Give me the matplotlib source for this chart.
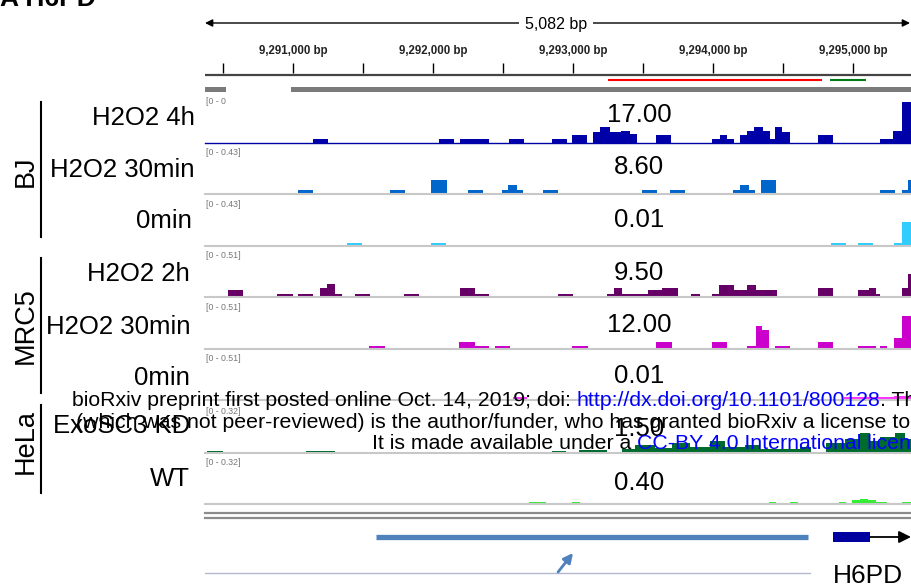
import matplotlib
matplotlib.use("Agg")
import matplotlib.pyplot as plt
from matplotlib.patches import Rectangle

plt.rcParams['font.family'] = ['Liberation Sans', 'DejaVu Sans']

# ---------------- data ----------------
TITLE = "A H6PD"
VIEW_START, VIEW_END = 9290371, 9295414
SPAN_LABEL = "5,082 bp"
RULER_MINOR = [9290500, 9291000, 9291500, 9292000, 9292500, 9293000,
               9293500, 9294000, 9294500, 9295000]
RULER_MAJOR = [9291000, 9292000, 9293000, 9294000, 9295000]
REGION_RED = (9293250, 9294779)
REGION_GREEN = (9294836, 9295093)

GROUPS = ["BJ", "MRC5", "HeLa"]
TRACK_NAMES = ["H2O2 4h", "H2O2 30min", "0min", "H2O2 2h", "H2O2 30min",
               "0min", "ExoSC3 KD", "WT"]
TRACK_SCALES = [0.43, 0.43, 0.43, 0.51, 0.51, 0.51, 0.32, 0.32]
TRACK_NUMBERS = ["17.00", "8.60", "0.01", "9.50", "12.00", "0.01", "1.50", "0.40"]

BJ_H2O2_4H = [
    (9291141, 9291248, 0.04), (9292043, 9292150, 0.04), (9292193, 9292400, 0.04),
    (9292543, 9292650, 0.04), (9292850, 9292957, 0.04), (9292993, 9293100, 0.08),
    (9293143, 9293193, 0.11), (9293193, 9293264, 0.16), (9293264, 9293343, 0.11),
    (9293343, 9293407, 0.12), (9293407, 9293457, 0.09), (9293593, 9293700, 0.08),
    (9293993, 9294050, 0.04), (9294050, 9294100, 0.08), (9294100, 9294150, 0.04),
    (9294193, 9294243, 0.08), (9294243, 9294293, 0.12), (9294293, 9294357, 0.16),
    (9294357, 9294407, 0.12), (9294407, 9294443, 0.04), (9294443, 9294493, 0.16),
    (9294493, 9294550, 0.11), (9294750, 9294857, 0.08), (9295193, 9295286, 0.04),
    (9295286, 9295350, 0.12), (9295350, 9295420, 0.41),
]
BJ_H2O2_30MIN = [
    (9291036, 9291143, 0.04), (9291693, 9291800, 0.04), (9291986, 9292100, 0.14),
    (9292250, 9292357, 0.04), (9292493, 9292536, 0.04), (9292536, 9292600, 0.09),
    (9292600, 9292643, 0.04), (9292786, 9292893, 0.04), (9293493, 9293600, 0.04),
    (9293693, 9293800, 0.04), (9294143, 9294193, 0.04), (9294193, 9294257, 0.09),
    (9294257, 9294300, 0.04), (9294343, 9294450, 0.14), (9295193, 9295300, 0.04),
    (9295350, 9295393, 0.04), (9295393, 9295420, 0.14),
]
BJ_0MIN = [
    (9291386, 9291493, 0.03), (9291986, 9292093, 0.03), (9294843, 9294950, 0.03),
    (9295036, 9295143, 0.03), (9295293, 9295350, 0.03), (9295350, 9295420, 0.24),
]
MRC5_H2O2_2H = [
    (9290536, 9290643, 0.083), (9290886, 9291000, 0.036), (9291036, 9291143, 0.036),
    (9291193, 9291243, 0.107), (9291243, 9291300, 0.154), (9291300, 9291350, 0.036),
    (9291443, 9291550, 0.036), (9291793, 9291900, 0.036), (9292193, 9292300, 0.107),
    (9292300, 9292400, 0.036), (9292893, 9293000, 0.036), (9293243, 9293293, 0.036),
    (9293293, 9293350, 0.107), (9293350, 9293536, 0.036), (9293536, 9293636, 0.083),
    (9293636, 9293750, 0.107), (9293843, 9293907, 0.036), (9293993, 9294043, 0.036),
    (9294043, 9294150, 0.142), (9294150, 9294243, 0.083), (9294243, 9294307, 0.142),
    (9294307, 9294457, 0.083), (9294750, 9294857, 0.107), (9295036, 9295114, 0.083),
    (9295114, 9295164, 0.107), (9295164, 9295193, 0.036), (9295350, 9295393, 0.107),
    (9295393, 9295420, 0.273),
]
MRC5_H2O2_30MIN = [
    (9291543, 9291657, 0.036), (9292186, 9292300, 0.083), (9292300, 9292400, 0.036),
    (9292443, 9292550, 0.036), (9292993, 9293107, 0.036), (9293593, 9293707, 0.083),
    (9293993, 9294100, 0.083), (9294243, 9294307, 0.036), (9294307, 9294350, 0.273),
    (9294350, 9294400, 0.225), (9294443, 9294550, 0.036), (9294750, 9294857, 0.083),
    (9295036, 9295164, 0.036), (9295193, 9295243, 0.036), (9295293, 9295350, 0.130),
    (9295350, 9295420, 0.391),
]
MRC5_0MIN = [
    (9292571, 9292671, 0.036), (9294936, 9295293, 0.036), (9295293, 9295420, 0.047),
]
HELA_EXOSC3_KD = [
    (9290386, 9290500, 0.015), (9291093, 9291300, 0.015), (9292850, 9292950, 0.015),
    (9293043, 9293243, 0.022), (9293350, 9293443, 0.030), (9293443, 9293586, 0.060),
    (9293586, 9293707, 0.037), (9293707, 9293836, 0.074), (9293836, 9293979, 0.045),
    (9293979, 9294086, 0.089), (9294086, 9294229, 0.045), (9294229, 9294336, 0.060),
    (9294336, 9294621, 0.030), (9294621, 9294700, 0.045), (9294807, 9294943, 0.074),
    (9294943, 9295050, 0.104), (9295050, 9295121, 0.149), (9295121, 9295193, 0.089),
    (9295193, 9295300, 0.119), (9295300, 9295371, 0.149), (9295371, 9295420, 0.104),
]
HELA_WT = [
    (9292686, 9292807, 0.015), (9292993, 9293050, 0.015), (9294400, 9294450, 0.015),
    (9294550, 9294607, 0.015), (9294900, 9294950, 0.015), (9294993, 9295050, 0.030),
    (9295050, 9295107, 0.037), (9295107, 9295164, 0.030), (9295164, 9295243, 0.015),
    (9295350, 9295420, 0.015),
]
TRACK_DATA = [BJ_H2O2_4H, BJ_H2O2_30MIN, BJ_0MIN, MRC5_H2O2_2H,
              MRC5_H2O2_30MIN, MRC5_0MIN, HELA_EXOSC3_KD, HELA_WT]

LNC_FEATURE = (9291593, 9294679)
H6PD_EXON = (9294857, 9295121)
GENE_NAME = "H6PD"
ARROW_FROM, ARROW_TO = 9292893, 9293000
LOWER_LINE = (VIEW_START, 9294693)

WM_LINE1 = [("bioRxiv preprint first posted online Oct. 14, 2019; doi:", "black"),
            ("http://dx.doi.org/10.1101/800128", "#0000FF"),
            (". The copyright holder for this preprint", "black")]
WM_LINE2 = [("(which was not peer-reviewed) is the author/funder, who has granted bioRxiv a license to display the preprint in perpetuity.", "black")]
WM_LINE3 = [("It is made available under a", "black"),
            ("CC-BY 4.0 International license", "#0000FF"),
            (".", "black")]

# ---------------- style / layout ----------------
W, H = 911, 586
PX0, PX1 = 205, 911
TRACK_PX = 43
BASELINES = [143, 194, 246, 297, 349, 400, 453, 504]
TRACK_COLORS = ['#0000A8', '#0066CC', '#33CCFF', '#660066', '#CC00CC',
                '#FF33FF', '#006B2E', '#33EE33']
NUM_BASE = [122, 174, 227, 280, 332, 383, 436, 490]
LAB_BASE = [125, 177, 228, 281, 334, 385, 433, 486]
LAB_RIGHT = [195, 195, 192, 190, 190, 190, 190, 190]
GROUP_Y = [171, 326, 441]
GROUP_LINES = [(102, 237), (258, 393), (405, 493)]
BIG = 18.5

fig = plt.figure(figsize=(W / 100, H / 100), dpi=100)
fig.patch.set_facecolor('white')


def box(x0, y0, x1, y1):
    return [x0 / W, 1 - y1 / H, (x1 - x0) / W, (y1 - y0) / H]


# ---- data tracks ----
for i, segs in enumerate(TRACK_DATA):
    b = BASELINES[i]
    ax = fig.add_axes(box(PX0, b - TRACK_PX, PX1, b))
    ax.set_xlim(VIEW_START, VIEW_END)
    ax.set_ylim(0, TRACK_SCALES[i])
    ax.axis('off')
    starts = [s for s, e, v in segs]
    widths = [e - s for s, e, v in segs]
    vals = [v for s, e, v in segs]
    ax.bar(starts, vals, width=widths, align='edge', color=TRACK_COLORS[i],
           linewidth=0)
    ax.axhline(0, color=TRACK_COLORS[0] if i == 0 else '#C8C8C8',
               lw=1.0 if i == 0 else 1.5, clip_on=False)
    ax.text(0.002, 0.975, f"[0 - {TRACK_SCALES[i]:.2f}]", transform=ax.transAxes,
            fontsize=6.3, color='#777777', ha='left', va='center', clip_on=False)

# ---- ruler ----
rax = fig.add_axes(box(PX0, 0, PX1, 100), zorder=1)
rax.set_xlim(VIEW_START, VIEW_END)
rax.set_ylim(100, 0)
rax.axis('off')
for t in RULER_MINOR:
    rax.plot([t, t], [63, 73], color='black', lw=1.0, solid_capstyle='butt')
for t in RULER_MAJOR:
    rax.text(t, 51, f"{t:,} bp", ha='center', va='center', fontsize=8.3,
             fontweight='bold', color='#222222')
rax.plot([VIEW_START, VIEW_END], [75, 75], color='#444444', lw=1.6)
rax.plot(REGION_RED, [80, 80], color='#FF0000', lw=1.5, solid_capstyle='butt')
rax.plot(REGION_GREEN, [80, 80], color='#007A1A', lw=1.5, solid_capstyle='butt')

# ---- overlay (page coordinates) ----
ov = fig.add_axes([0, 0, 1, 1], zorder=2)
ov.set_xlim(0, W)
ov.set_ylim(H, 0)
ov.axis('off')

ov.annotate('', xy=(205, 23), xytext=(910, 23),
            arrowprops=dict(arrowstyle='<|-|>', color='black', lw=1.0,
                            mutation_scale=11, shrinkA=0, shrinkB=0))
ov.text(556, 24, SPAN_LABEL, ha='center', va='center', fontsize=11.5,
        bbox=dict(facecolor='white', edgecolor='none', pad=4))
ov.add_patch(Rectangle((205, 87), 706, 5, color='#7A7A7A', lw=0))
ov.add_patch(Rectangle((226, 87), 65, 22, color='white', lw=0))

ov.text(0, 6, TITLE, ha='left', va='baseline', fontsize=19, fontweight='bold')

for i, name in enumerate(TRACK_NAMES):
    ov.text(LAB_RIGHT[i], LAB_BASE[i], name, ha='right', va='baseline', fontsize=BIG)
    ov.text(639, NUM_BASE[i], TRACK_NUMBERS[i], ha='center', va='baseline',
            fontsize=BIG)

for g, yc, (y0, y1) in zip(GROUPS, GROUP_Y, GROUP_LINES):
    ov.text(33, yc, g, rotation=90, rotation_mode='anchor', ha='center',
            va='baseline', fontsize=19.5)
    ov.plot([41, 41], [y0, y1], color='black', lw=1.5)

ov.plot([205, 911], [513, 513], color='#8C8C8C', lw=1.6)
ov.plot([205, 911], [518, 518], color='#8C8C8C', lw=1.6)

# ---- gene track ----
gax = fig.add_axes(box(PX0, 522, PX1, 586), zorder=1)
gax.set_xlim(VIEW_START, VIEW_END)
gax.set_ylim(586, 522)
gax.axis('off')
gax.plot(LNC_FEATURE, [537, 537], color='#4F81BD', lw=3.8, solid_capstyle='butt')
gax.add_patch(Rectangle((H6PD_EXON[0], 531.5), H6PD_EXON[1] - H6PD_EXON[0], 10,
                        color='#0000A0', lw=0))
gax.annotate('', xy=(VIEW_END, 537), xytext=(H6PD_EXON[1], 537),
             arrowprops=dict(arrowstyle='-|>', color='black', lw=1.3,
                             mutation_scale=18, shrinkA=0, shrinkB=0))
gax.text(H6PD_EXON[0], 583, GENE_NAME, ha='left', va='baseline', fontsize=19)
gax.annotate('', xy=(ARROW_TO, 553), xytext=(ARROW_FROM, 572),
             arrowprops=dict(arrowstyle='-|>', color='#4F81BD', lw=2,
                             mutation_scale=14, shrinkA=0, shrinkB=0))
gax.plot(LOWER_LINE, [573, 573], color='#B4B8CC', lw=1.0)

# ---- watermark ----
renderer = fig.canvas.get_renderer()


def text_w(s, size):
    t = fig.text(0, 0, s, fontsize=size)
    w = t.get_window_extent(renderer=renderer).width
    t.remove()
    return w


WM_SIZE = 15.3
space_w = text_w("x x", WM_SIZE) - text_w("xx", WM_SIZE)


def chain(x, y, pieces, size):
    for k, (s, col) in enumerate(pieces):
        fig.text(x / W, 1 - y / H, s, color=col, fontsize=size, ha='left',
                 va='baseline', zorder=5)
        x += text_w(s, size)
        if k + 1 < len(pieces) and not pieces[k + 1][0].startswith('.'):
            x += space_w


chain(72, 406, WM_LINE1, WM_SIZE)
chain(76, 428, WM_LINE2, WM_SIZE)
chain(372, 449, WM_LINE3, WM_SIZE)

fig.savefig("out.png", dpi=100, facecolor='white')
